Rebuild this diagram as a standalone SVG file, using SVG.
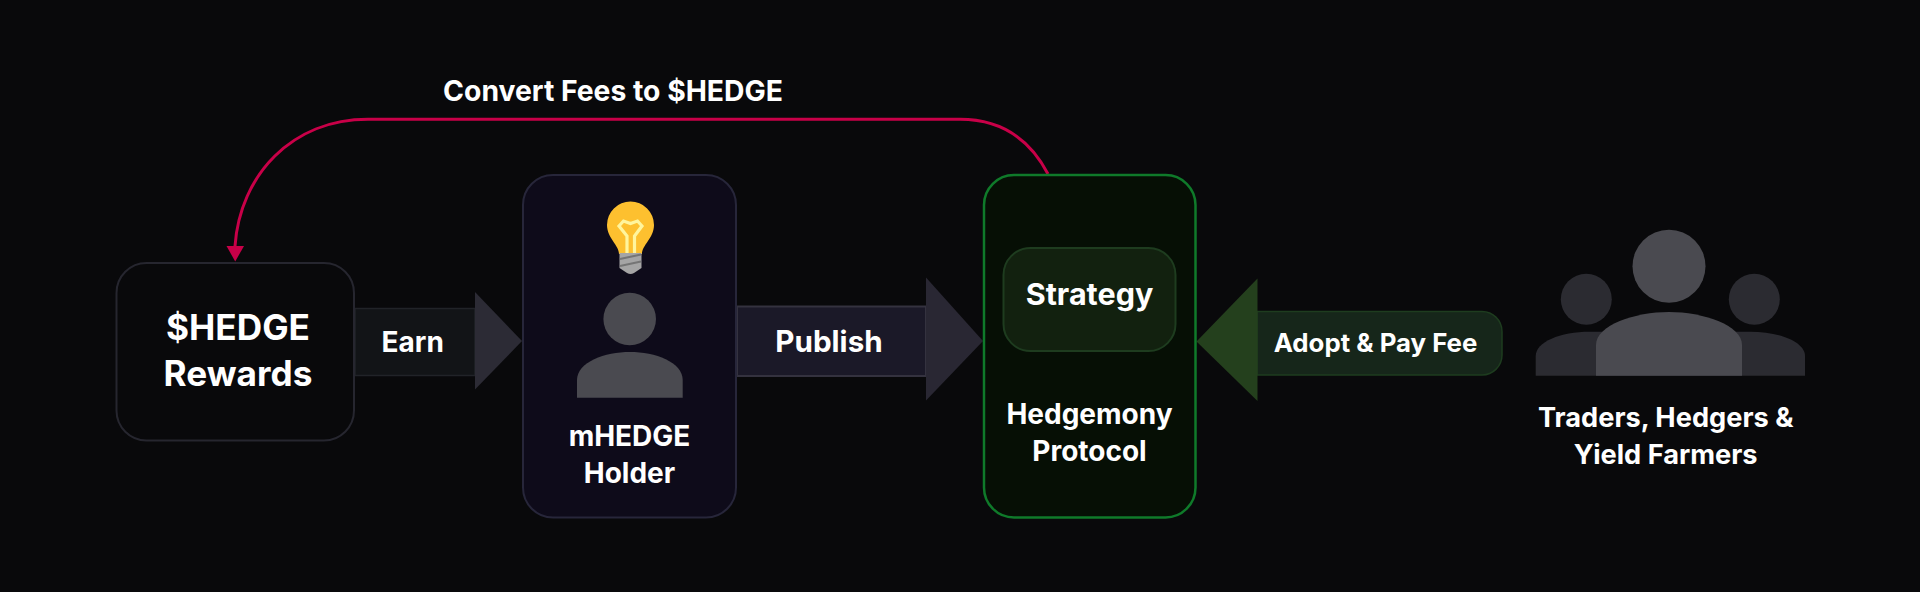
<svg xmlns="http://www.w3.org/2000/svg" width="1920" height="592" viewBox="0 0 1920 592">
<defs>
<style>
text{font-family:Inter,"Noto Sans","Liberation Sans",sans-serif;font-weight:700;fill:#fff;text-anchor:middle}
.big{font-size:35.200px}
.pub{font-size:29.600px}
.strat{font-size:30.500px}
.mid{font-size:28px}
.lab{font-size:27.200px}
.conv{font-size:28.300px}
.adopt{font-size:25.800px}
.dim{fill:#4a4a50}
.dimmer{fill:#2b2b31}
</style>
</defs>
<rect width="1920" height="592" fill="#09090b"/>
<g id="connectors">
<g id="earn-arrow">
<rect x="355" y="308.500" width="120" height="67" fill="#121417" stroke="#212328" stroke-width="1.500"/>
<path d="M475 292L522 341L475 389.500Z" fill="#2c2b35"/>
</g>
<g id="publish-arrow">
<rect x="737" y="306.500" width="189" height="69.500" fill="#1b1928" stroke="#34323f" stroke-width="2"/>
<path d="M926 277.500L983 341L926 400.500Z" fill="#292733"/>
</g>
<g id="adopt-arrow">
<path d="M1257 311.500H1482A20 20 0 0 1 1502 331.500V355A20 20 0 0 1 1482 375H1257Z" fill="#16261a" stroke="#1e3c1f" stroke-width="1.500"/>
<path d="M1257.500 278.500L1196.500 341.500L1257.500 401Z" fill="#24401d"/>
</g>
<path id="fee-loop" d="M1048 174C1025 130 990 119.300 960 119.300H368C292 119.300 240 175 235 246" fill="none" stroke="#c80048" stroke-width="3"/>
<path d="M226.500 246H244L235.200 261.500Z" fill="#c80048"/>
</g>
<g id="hedge-rewards">
<rect x="116.500" y="263" width="237.500" height="177.500" rx="30" fill="#09090b" stroke="#26262f" stroke-width="2"/>
<text class="big" x="238" y="339.500">$HEDGE</text>
<text class="big" x="238" y="385.500">Rewards</text>
</g>
<text class="mid" x="412.700" y="351.700">Earn</text>
<g id="mhedge-holder">
<rect x="523" y="175" width="213" height="342.500" rx="30" fill="#0e0b1a" stroke="#27263a" stroke-width="2"/>
<g id="bulb">
<path d="M619 254C619 245 607 238 607 225A23.500 23.500 0 0 1 654 225C654 238 642 245 642 254Z" fill="#fdc02f"/>
<path d="M627 253V236L619 226L623.500 221L630.500 223.500L637.500 221L642 226L634.500 236V253" fill="none" stroke="#fff59d" stroke-width="3.200"/>
<path d="M619.500 253H641.500V268L634 273Q630.500 275 627 273L619.500 268Z" fill="#a5a5a5"/>
<path d="M620 259L641 254.500M620 266L641 261.500" stroke="#757575" stroke-width="2" fill="none"/>
</g>
<circle class="dim" cx="629.700" cy="319" r="26.300"/>
<path class="dim" d="M577 397.700V380C577 362 605 352 630 352C655 352 682.700 362 682.700 380V397.700Z"/>
<text class="mid" x="629.500" y="446">mHEDGE</text>
<text class="mid" x="629.500" y="483.300">Holder</text>
</g>
<text class="pub" x="829" y="351.700">Publish</text>
<g id="hedgemony-protocol">
<rect x="984" y="175" width="211.500" height="342.500" rx="30" fill="#060f05" stroke="#0f7a2a" stroke-width="2.500"/>
<g id="strategy">
<rect x="1003.500" y="248" width="172" height="103" rx="27" fill="#12210f" stroke="#1e3c1f" stroke-width="2"/>
<text class="strat" x="1089.500" y="305.300">Strategy</text>
</g>
<text class="mid" x="1089.500" y="424">Hedgemony</text>
<text class="mid" x="1089.500" y="460.700">Protocol</text>
</g>
<text class="adopt" x="1375.500" y="351.700">Adopt &amp; Pay Fee</text>
<g id="traders">
<circle class="dimmer" cx="1586.300" cy="299.300" r="25.500"/>
<circle class="dimmer" cx="1754.300" cy="299.300" r="25.500"/>
<path class="dimmer" d="M1535.700 375.700V356C1535.700 342 1560 331.700 1590 331.700H1750C1780 331.700 1805 342 1805 356V375.700Z"/>
<circle class="dim" cx="1669" cy="266.300" r="36.500"/>
<path class="dim" d="M1596 375.700V345C1596 325 1635 312 1669 312C1703 312 1742 325 1742 345V375.700Z"/>
<text class="lab" x="1665.700" y="427.300">Traders, Hedgers &amp;</text>
<text class="lab" x="1665.700" y="464">Yield Farmers</text>
</g>
<text class="conv" x="613" y="101">Convert Fees to $HEDGE</text>
</svg>
